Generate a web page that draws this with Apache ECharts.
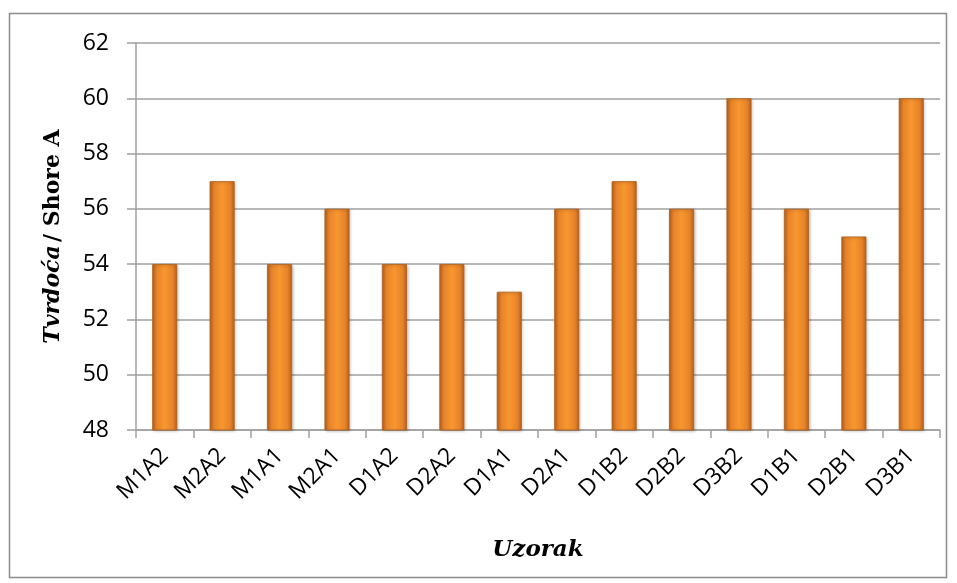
<!DOCTYPE html>
<html>
<head>
<meta charset="utf-8">
<script src="https://cdn.jsdelivr.net/npm/echarts@6/dist/echarts.min.js"></script>
<style>
  html, body { margin: 0; padding: 0; background: #fff; }
  #chart { width: 957px; height: 583px; }
</style>
</head>
<body>
<div id="chart"></div>
<script>
// uzorci i tvrdoća (Shore A)
const categories = ['M1A2', 'M2A2', 'M1A1', 'M2A1', 'D1A2', 'D2A2', 'D1A1', 'D2A1', 'D1B2', 'D2B2', 'D3B2', 'D1B1', 'D2B1', 'D3B1']
const hardness = [54, 57, 54, 56, 54, 54, 53, 56, 57, 56, 60, 56, 55, 60]
const yMin = 48
const yMax = 62
const yStep = 2

const chart = echarts.init(document.getElementById('chart'))

chart.setOption({
  animation: false,
  graphic: [
    {
      type: 'rect',
      shape: { x: 9.5, y: 13.5, width: 937, height: 564 },
      style: { fill: 'none', stroke: '#8c8c8c', lineWidth: 1.5 },
      silent: true
    }
  ],
  grid: {
    left: 136,
    right: 17,
    top: 43,
    bottom: 153
  },
  xAxis: {
    type: 'category',
    data: categories,
    axisLine: { lineStyle: { color: '#a0a0a0', width: 1.5 } },
    axisTick: { show: true, length: 8, lineStyle: { color: '#a0a0a0', width: 1.5 } },
    axisLabel: {
      interval: 0,
      rotate: 45,
      margin: 22,
      color: '#000',
      fontSize: 23,
      fontFamily: 'Open Sans'
    },
    name: 'Uzorak',
    nameLocation: 'middle',
    nameGap: 109,
    nameTextStyle: {
      fontFamily: 'DejaVu Serif',
      fontStyle: 'italic',
      fontWeight: 'bold',
      fontSize: 23,
      color: '#000'
    }
  },
  yAxis: {
    type: 'value',
    min: yMin,
    max: yMax,
    interval: yStep,
    axisLine: { show: true, lineStyle: { color: '#a0a0a0', width: 1.5 } },
    axisTick: { show: true, length: 9, lineStyle: { color: '#a0a0a0', width: 1.5 } },
    splitLine: { lineStyle: { color: '#a0a0a0', width: 1.5 } },
    axisLabel: {
      margin: 27,
      color: '#000',
      fontSize: 23,
      fontFamily: 'Open Sans'
    },
    name: '{it|Tvrdoća} {b|/ Shore A}',
    nameLocation: 'middle',
    nameRotate: 90,
    nameGap: 72,
    nameTextStyle: {
      rich: {
        it: {
          fontFamily: 'DejaVu Serif',
          fontStyle: 'italic',
          fontWeight: 'bold',
          fontSize: 22,
          color: '#000'
        },
        b: {
          fontFamily: 'DejaVu Serif',
          fontWeight: 'bold',
          fontSize: 22,
          color: '#000'
        }
      }
    }
  },
  series: [
    {
      type: 'bar',
      data: hardness,
      barWidth: 25,
      itemStyle: {
        borderColor: '#b0601c',
        borderWidth: 0.8,
        shadowColor: 'rgba(0,0,0,0.25)',
        shadowBlur: 3,
        shadowOffsetX: 1,
        shadowOffsetY: 1,
        color: new echarts.graphic.LinearGradient(0, 0, 1, 0, [
          { offset: 0, color: '#b8621b' },
          { offset: 0.18, color: '#e7832a' },
          { offset: 0.5, color: '#f8972f' },
          { offset: 0.82, color: '#e7832a' },
          { offset: 1, color: '#b8621b' }
        ])
      }
    }
  ]
})
</script>
</body>
</html>
